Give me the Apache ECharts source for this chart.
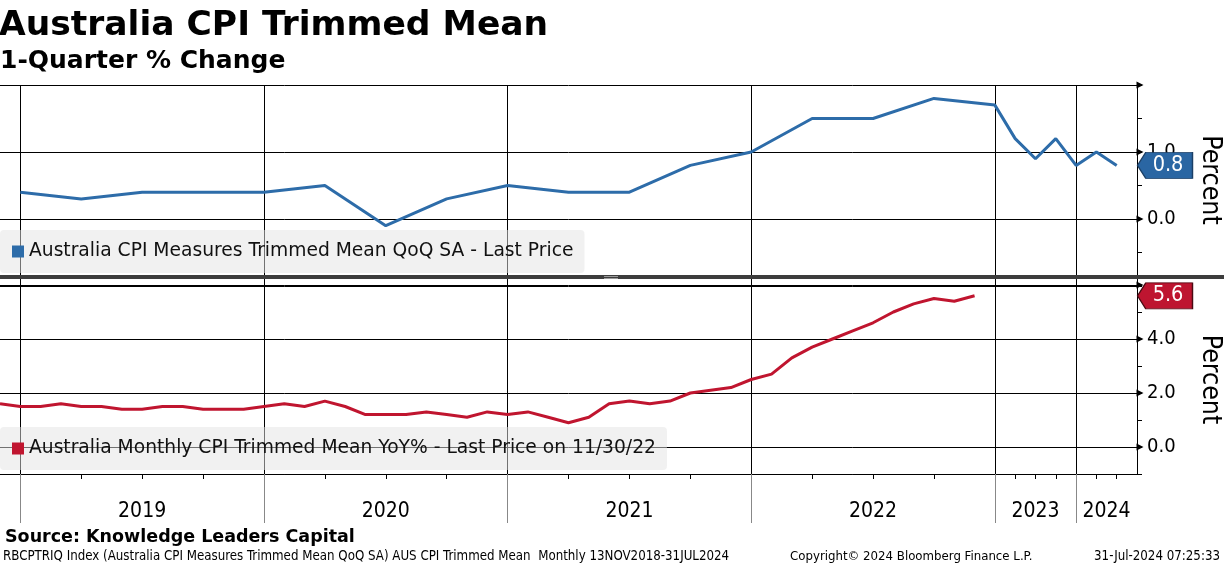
<!DOCTYPE html>
<html><head><meta charset="utf-8">
<script src="https://cdn.jsdelivr.net/npm/echarts@6/dist/echarts.min.js"></script>
<style>html,body{margin:0;padding:0;background:#fff}#c{width:1224px;height:566px}</style>
</head><body><div id="c"></div>
<script>
// Axis categories: month ends to Nov 2022, then quarter ends, then end of range
const categories = [
  'Nov 2018','Dec 2018',
  'Jan 2019','Feb 2019','Mar 2019','Apr 2019','May 2019','Jun 2019','Jul 2019','Aug 2019','Sep 2019','Oct 2019','Nov 2019','Dec 2019',
  'Jan 2020','Feb 2020','Mar 2020','Apr 2020','May 2020','Jun 2020','Jul 2020','Aug 2020','Sep 2020','Oct 2020','Nov 2020','Dec 2020',
  'Jan 2021','Feb 2021','Mar 2021','Apr 2021','May 2021','Jun 2021','Jul 2021','Aug 2021','Sep 2021','Oct 2021','Nov 2021','Dec 2021',
  'Jan 2022','Feb 2022','Mar 2022','Apr 2022','May 2022','Jun 2022','Jul 2022','Aug 2022','Sep 2022','Oct 2022','Nov 2022','Dec 2022',
  'Mar 2023','Jun 2023','Sep 2023','Dec 2023','Mar 2024','Jun 2024','Jul 2024'
];
// Quarterly trimmed mean QoQ SA (%)
const qoqDates = ['Dec 2018','Mar 2019','Jun 2019','Sep 2019','Dec 2019','Mar 2020','Jun 2020','Sep 2020','Dec 2020','Mar 2021','Jun 2021','Sep 2021','Dec 2021','Mar 2022','Jun 2022','Sep 2022','Dec 2022','Mar 2023','Jun 2023','Sep 2023','Dec 2023','Mar 2024','Jun 2024'];
const qoqValues = [0.4,0.3,0.4,0.4,0.4,0.5,-0.1,0.3,0.5,0.4,0.4,0.8,1.0,1.5,1.5,1.8,1.7,1.2,0.9,1.2,0.8,1.0,0.8];
// Monthly trimmed mean YoY (%), Nov 2018 - Nov 2022
const yoyDates = categories.slice(0, 49);
const yoyValues = [1.6,1.5,1.5,1.6,1.5,1.5,1.4,1.4,1.5,1.5,1.4,1.4,1.4,1.5,1.6,1.5,1.7,1.5,1.2,1.2,1.2,1.3,1.2,1.1,1.3,1.2,1.3,1.1,0.9,1.1,1.6,1.7,1.6,1.7,2.0,2.1,2.2,2.5,2.7,3.3,3.7,4.0,4.3,4.6,5.0,5.3,5.5,5.4,5.6];
// Tick labels / gridline values
const qoqTickLabels = [0, 1];
const qoqGridValues = [0, 1, 2];
const yoyTickLabels = [0, 2, 4];
const yoyGridValues = [0, 2, 4, 6];
// Year boundary category names and year label positions
const yearBoundaries = ['Dec 2018','Dec 2019','Dec 2020','Dec 2021','Dec 2022','Dec 2023'];
const yearLabelPos = [7, 19, 31, 43, 51, 54.5];
const yearLabels = ['2019','2020','2021','2022','2023','2024'];

const nameQ = 'Australia CPI Measures Trimmed Mean QoQ SA - Last Price';
const nameM = 'Australia Monthly CPI Trimmed Mean YoY% - Last Price on 11/30/22';
const BLUE = '#2d6ca9', RED = '#c0152f';
const FN = "'DejaVu Sans Condensed', 'DejaVu Sans', sans-serif";
const FB = "'DejaVu Sans', sans-serif";
const LAST = categories[categories.length - 1];

const isYear = (i) => yearBoundaries.indexOf(categories[i]) >= 0;
const isQuarterTick = (i) => qoqDates.indexOf(categories[i]) >= 0;
const yearLabelFmt = (v) => { const k = yearLabelPos.indexOf(v); return k >= 0 ? yearLabels[k] : ''; };

const chart = echarts.init(document.getElementById('c'), null, {renderer: 'canvas'});
const legendCommon = {
  orient: 'horizontal', left: 0, icon: 'rect', itemWidth: 12, itemHeight: 12,
  padding: [12, 11, 12, 12], backgroundColor: 'rgba(228,228,228,0.5)', borderRadius: 4,
  selectedMode: false, textStyle: {fontFamily: FB, fontSize: 18.7, color: '#111'}
};
const tagSymbol = 'path://M0,13L9,0L60,0L60,26L9,26Z';
const tagLabel = {show: true, position: 'inside', offset: [3, 0], color: '#fff', fontFamily: FN, fontSize: 21.5,
                  formatter: (p) => Number(p.value).toFixed(1)};
const arrowItems = (vals) => vals.map((v) => ({coord: [LAST, v], symbol: 'triangle', symbolSize: [7, 7],
  symbolRotate: -90, symbolOffset: [3, 0], itemStyle: {color: '#000', borderWidth: 0}, label: {show: false}}));
const tagItem = (v, color, border) => ({coord: [LAST, v], value: v, symbol: tagSymbol, symbolSize: [55, 26],
  symbolKeepAspect: false, symbolOffset: [28, 0], itemStyle: {color: color, borderColor: border, borderWidth: 1}, label: tagLabel});

chart.setOption({
  animation: false,
  backgroundColor: '#fff',
  title: [
    {text: 'Australia CPI Trimmed Mean', left: -1, top: 9, padding: 0,
     textStyle: {fontFamily: FB, fontSize: 34.5, fontWeight: 'bold', color: '#000'}},
    {text: '1-Quarter % Change', left: 0, top: 49, padding: 0,
     textStyle: {fontFamily: FB, fontSize: 25, fontWeight: 'bold', color: '#000'}},
    {text: 'Source: Knowledge Leaders Capital', left: 5, top: 528, padding: 0,
     textStyle: {fontFamily: FB, fontSize: 17.5, fontWeight: 'bold', color: '#000'}},
    {text: 'RBCPTRIQ Index (Australia CPI Measures Trimmed Mean QoQ SA) AUS CPI Trimmed Mean  Monthly 13NOV2018-31JUL2024', left: 3, top: 550, padding: 0,
     textStyle: {fontFamily: FN, fontSize: 13.2, fontWeight: 'normal', color: '#000'}},
    {text: 'Copyright\u00A9 2024 Bloomberg Finance L.P.', left: 790, top: 550, padding: 0,
     textStyle: {fontFamily: FN, fontSize: 13.1, fontWeight: 'normal', color: '#000'}},
    {text: '31-Jul-2024 07:25:33', right: 4, top: 550, padding: 0,
     textStyle: {fontFamily: FN, fontSize: 13.2, fontWeight: 'normal', color: '#000'}}
  ],
  legend: [
    Object.assign({}, legendCommon, {data: [nameQ], top: 230}),
    Object.assign({}, legendCommon, {data: [nameM], top: 427})
  ],
  grid: [
    {left: 0, right: 87, top: 85, height: 201, containLabel: false, outerBoundsMode: 'none'},
    {left: 0, right: 87, top: 285, height: 189, containLabel: false, outerBoundsMode: 'none'}
  ],
  xAxis: [
    {type: 'category', gridIndex: 0, position: 'bottom', data: categories, boundaryGap: false,
     axisLine: {show: false, onZero: false}, axisTick: {show: false}, axisLabel: {show: false},
     splitLine: {show: true, interval: (i) => isYear(i), lineStyle: {color: '#000', width: 1}}},
    {type: 'category', gridIndex: 1, position: 'bottom', data: categories, boundaryGap: false,
     axisLine: {show: true, onZero: false, lineStyle: {color: '#000', width: 1}},
     axisTick: {show: true, interval: (i) => isQuarterTick(i), length: 5, lineStyle: {color: '#000'}},
     axisLabel: {show: false},
     splitLine: {show: true, interval: (i) => isYear(i), lineStyle: {color: '#000', width: 1}}},
    {type: 'category', gridIndex: 1, position: 'bottom', offset: 0, data: categories, boundaryGap: false,
     axisLine: {show: false, onZero: false},
     axisTick: {show: true, interval: (i) => isYear(i), length: 49, lineStyle: {color: '#888', width: 1}},
     axisLabel: {show: false}, splitLine: {show: false}},
    {type: 'value', gridIndex: 1, position: 'bottom', offset: 0, min: 0, max: 56, interval: 0.5,
     axisLine: {show: false, onZero: false}, axisTick: {show: false}, splitLine: {show: false}, minorTick: {show: false},
     axisLabel: {show: true, formatter: yearLabelFmt, margin: 27, hideOverlap: false,
                 showMinLabel: false, showMaxLabel: false,
                 fontFamily: FN, fontSize: 21, color: '#000'}}
  ],
  yAxis: [
    // top panel: labels + gridlines
    {type: 'value', gridIndex: 0, position: 'right', min: -1, max: 2, interval: 1,
     axisLine: {show: true, onZero: false, lineStyle: {color: '#000'}},
     axisTick: {show: false},
     axisLabel: {show: true, margin: 10, fontFamily: FN, fontSize: 20, color: '#000',
                 formatter: (v) => qoqTickLabels.indexOf(v) >= 0 ? v.toFixed(1) : ''},
     splitLine: {show: true, lineStyle: {color: '#000', width: 1}},
     name: 'Percent', nameLocation: 'middle', nameRotate: -90, nameGap: 59,
     nameTextStyle: {fontFamily: FN, fontSize: 26.5, color: '#000', padding: [0, 11, 0, 0]}},
    // top panel: minor ticks
    {type: 'value', gridIndex: 0, position: 'right', min: -1, max: 2, interval: 0.5,
     axisLine: {show: false, onZero: false}, axisLabel: {show: false}, splitLine: {show: false},
     axisTick: {show: true, inside: false, length: 5, lineStyle: {color: '#000'}}},
    // bottom panel: labels + ticks
    {type: 'value', gridIndex: 1, position: 'right', min: -1, max: 6, interval: 1,
     axisLine: {show: true, onZero: false, lineStyle: {color: '#000'}},
     axisTick: {show: true, inside: false, length: 5, lineStyle: {color: '#000'}},
     axisLabel: {show: true, margin: 10, fontFamily: FN, fontSize: 20, color: '#000',
                 formatter: (v) => yoyTickLabels.indexOf(v) >= 0 ? v.toFixed(1) : ''},
     splitLine: {show: false},
     name: 'Percent', nameLocation: 'middle', nameRotate: -90, nameGap: 59,
     nameTextStyle: {fontFamily: FN, fontSize: 26.5, color: '#000'}}
  ],
  series: [
    {name: nameQ, type: 'line', xAxisIndex: 0, yAxisIndex: 0, symbol: 'none', z: 3,
     data: qoqDates.map((d, i) => [d, qoqValues[i]]),
     lineStyle: {color: BLUE, width: 3}, itemStyle: {color: BLUE},
     markPoint: {silent: true, z: 50,
       data: arrowItems(qoqGridValues).concat([tagItem(qoqValues[qoqValues.length - 1], '#2a66a3', '#1b3f66')])}},
    {name: nameM, type: 'line', xAxisIndex: 1, yAxisIndex: 2, symbol: 'none', z: 3,
     data: yoyDates.map((d, i) => [d, yoyValues[i]]),
     lineStyle: {color: RED, width: 3}, itemStyle: {color: RED},
     markLine: {silent: true, symbol: ['none', 'none'], z: 1, label: {show: false},
       lineStyle: {color: '#000', width: 1, type: 'solid'}, emphasis: {disabled: true},
       data: yoyGridValues.map((v) => ({yAxis: v}))},
     markPoint: {silent: true, z: 50,
       data: arrowItems(yoyGridValues).concat([tagItem(yoyValues[yoyValues.length - 1], '#be1530', '#4a0a12')])}}
  ],
  graphic: [
    {type: 'rect', left: 0, top: 275, z: 100, shape: {width: 1224, height: 4}, style: {fill: '#3d3d3d'}},
    {type: 'rect', left: 604, top: 276, z: 101, shape: {width: 14, height: 1}, style: {fill: '#9a9a9a'}},
    {type: 'rect', left: 604, top: 278, z: 101, shape: {width: 14, height: 1}, style: {fill: '#9a9a9a'}}
  ]
});
</script>
</body></html>
